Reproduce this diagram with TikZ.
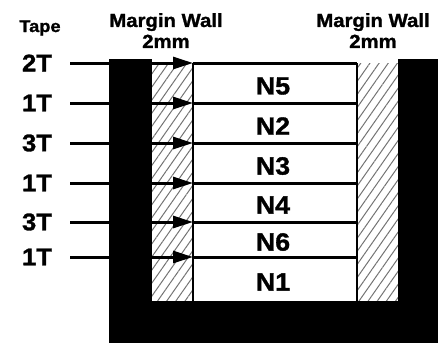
\documentclass[tikz,border=0pt]{standalone}
\usepackage{fontspec}
\setmainfont{Liberation Sans}[FakeStretch=1.07,BoldFeatures={FakeBold=1.3}]
\usetikzlibrary{arrows.meta}
\usetikzlibrary{patterns.meta}
\pgfdeclarelayer{edgelayer}
\pgfdeclarelayer{nodelayer}
\pgfsetlayers{edgelayer,nodelayer,main}
\tikzstyle{none}=[inner sep=0pt]
\tikzstyle{tape}=[inner sep=0pt,font=\fontsize{24}{24}\selectfont\bfseries]
\tikzstyle{layer}=[inner sep=0pt,font=\fontsize{25}{25}\selectfont\bfseries]
\tikzstyle{heading}=[inner sep=0pt,align=center,anchor=north,font=\fontsize{19}{21}\selectfont\bfseries]
\tikzstyle{wall}=[fill=black]
\tikzstyle{margin}=[pattern={Lines[angle=55,distance=7.5pt,line width=1pt]},pattern color=black!55]
\tikzstyle{transition}=[-{Triangle[length=20pt,width=12pt]},draw=black,line width=3pt]
\tikzstyle{separator}=[draw=black,line width=3pt]

\begin{document}
\begin{tikzpicture}[x=1pt,y=-1pt]
	\useasboundingbox (0,0) rectangle (438,343);
	\begin{pgfonlayer}{nodelayer}
		\node [style=none,anchor=base,font=\fontsize{17}{17}\selectfont\bfseries] (0) at (40, 32) {Tape};
		\node [style=heading] (1) at (166, 13) {Margin Wall\\2mm};
		\node [style=heading] (2) at (373, 13) {Margin Wall\\2mm};
		\node [style=tape] (3) at (37, 63) {2T};
		\node [style=tape] (4) at (37, 103) {1T};
		\node [style=tape] (5) at (37, 143) {3T};
		\node [style=tape] (6) at (37, 183) {1T};
		\node [style=tape] (7) at (37, 222) {3T};
		\node [style=tape] (8) at (37, 257) {1T};
		\node [style=layer] (9) at (273, 86) {N5};
		\node [style=layer] (10) at (273, 126) {N2};
		\node [style=layer] (11) at (273, 166) {N3};
		\node [style=layer] (12) at (273, 205) {N4};
		\node [style=layer] (13) at (273, 242) {N6};
		\node [style=layer] (14) at (273, 282) {N1};
		\node [style=none] (20) at (70, 63) {};
		\node [style=none] (21) at (70, 103) {};
		\node [style=none] (22) at (70, 143) {};
		\node [style=none] (23) at (70, 183) {};
		\node [style=none] (24) at (70, 222) {};
		\node [style=none] (25) at (70, 257) {};
		\node [style=none] (30) at (193, 63) {};
		\node [style=none] (31) at (193, 103) {};
		\node [style=none] (32) at (193, 143) {};
		\node [style=none] (33) at (193, 183) {};
		\node [style=none] (34) at (193, 222) {};
		\node [style=none] (35) at (193, 257) {};
		\node [style=none] (40) at (357, 63) {};
		\node [style=none] (41) at (357, 103) {};
		\node [style=none] (42) at (357, 143) {};
		\node [style=none] (43) at (357, 183) {};
		\node [style=none] (44) at (357, 222) {};
		\node [style=none] (45) at (357, 257) {};
		\node [style=none] (46) at (193, 301) {};
		\node [style=none] (47) at (357, 301) {};
	\end{pgfonlayer}
	\begin{pgfonlayer}{edgelayer}
		% walls and margins
		\fill [style=margin] (152, 63) rectangle (193, 301);
		\fill [style=margin] (357, 63) rectangle (398, 301);
		\fill [style=wall] (109, 59) rectangle (152, 343);
		\fill [style=wall] (109, 301) rectangle (438, 343);
		\fill [style=wall] (398, 59) rectangle (438, 343);
		\draw [line width=2pt] (30.center) to (46.center);
		\draw [line width=2pt] (40.center) to (47.center);
		% tapes
		\draw [style=transition] (20.center) to (30.center);
		\draw [style=transition] (21.center) to (31.center);
		\draw [style=transition] (22.center) to (32.center);
		\draw [style=transition] (23.center) to (33.center);
		\draw [style=transition] (24.center) to (34.center);
		\draw [style=transition] (25.center) to (35.center);
		\draw [style=separator] (30.center) to (40.center);
		\draw [style=separator] (31.center) to (41.center);
		\draw [style=separator] (32.center) to (42.center);
		\draw [style=separator] (33.center) to (43.center);
		\draw [style=separator] (34.center) to (44.center);
		\draw [style=separator] (35.center) to (45.center);
	\end{pgfonlayer}
\end{tikzpicture}
\end{document}
